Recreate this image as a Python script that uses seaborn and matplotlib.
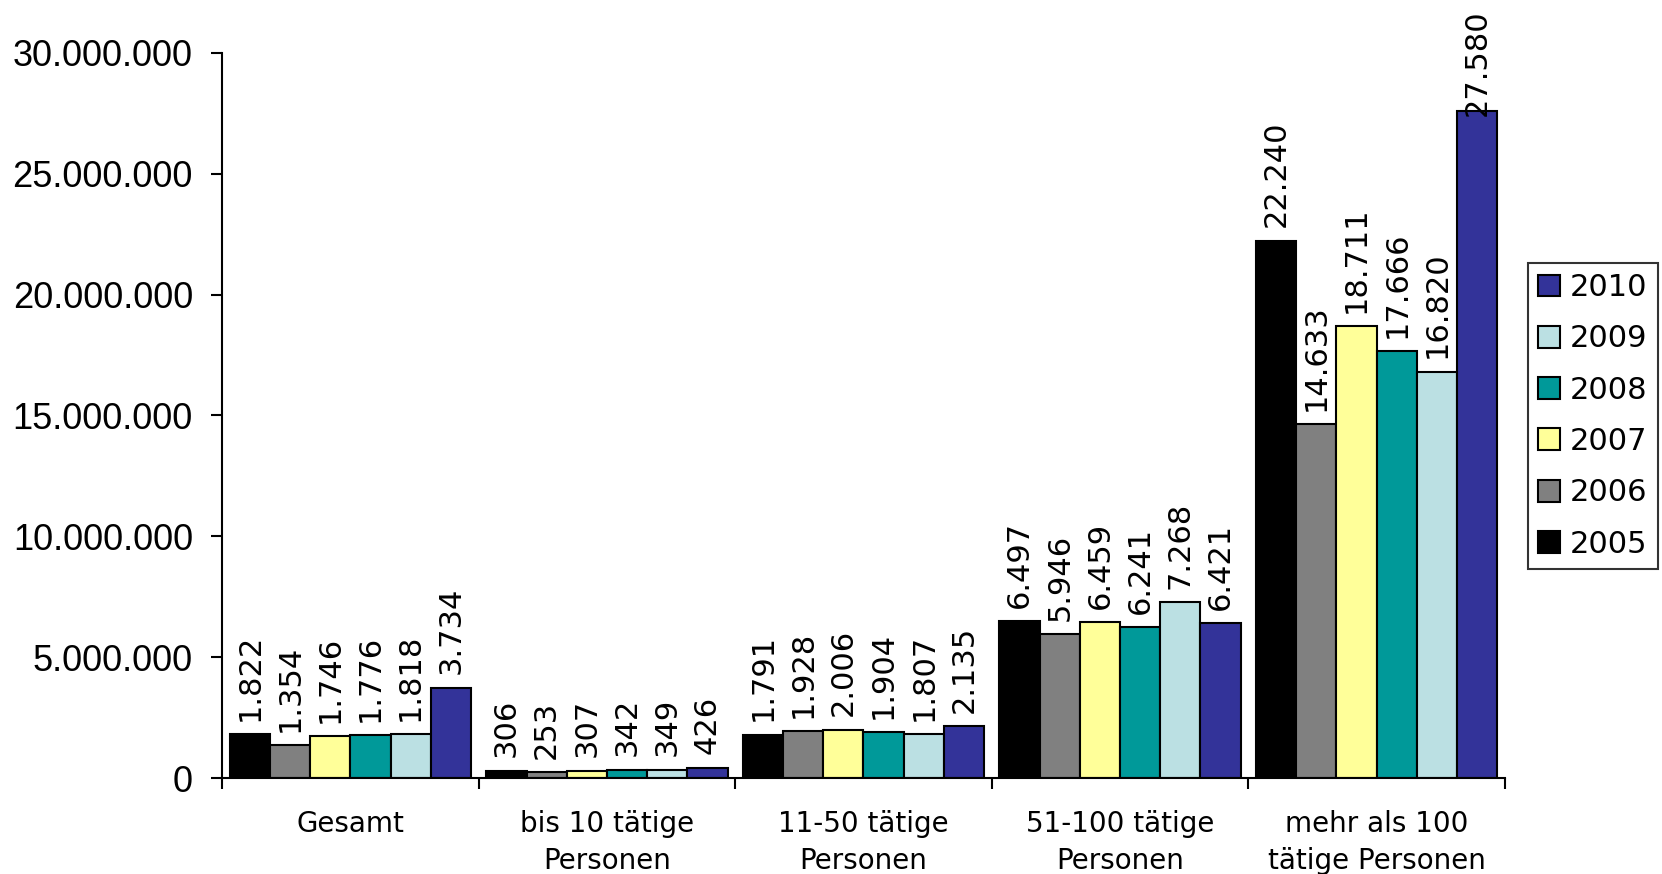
import matplotlib
matplotlib.use("Agg")
import matplotlib.pyplot as plt
import seaborn as sns
import pandas as pd
from matplotlib.ticker import FixedLocator, FuncFormatter

sns.set_theme(style="white")
plt.rcParams['font.family'] = ['DejaVu Sans']
plt.rcParams['text.color'] = 'black'
plt.rcParams['xtick.color'] = 'black'
plt.rcParams['ytick.color'] = 'black'

# Kategorien und Werte (in Tausend)
categories = ["Gesamt", "bis 10 tätige\nPersonen", "11-50 tätige\nPersonen",
              "51-100 tätige\nPersonen", "mehr als 100\ntätige Personen"]
years = ["2005", "2006", "2007", "2008", "2009", "2010"]
v2005 = [1822, 306, 1791, 6497, 22240]
v2006 = [1354, 253, 1928, 5946, 14633]
v2007 = [1746, 307, 2006, 6459, 18711]
v2008 = [1776, 342, 1904, 6241, 17666]
v2009 = [1818, 349, 1807, 7268, 16820]
v2010 = [3734, 426, 2135, 6421, 27580]
yticks = [0, 5000000, 10000000, 15000000, 20000000, 25000000, 30000000]

colors = ["#000000", "#808080", "#FFFF99", "#009999", "#BBE0E3", "#333399"]

values = [v2005, v2006, v2007, v2008, v2009, v2010]
rows = []
for y, vals in zip(years, values):
    for c, v in zip(categories, vals):
        rows.append({"Kategorie": c, "Jahr": y, "Wert": v * 1000})
df = pd.DataFrame(rows)

fig = plt.figure(figsize=(16.62, 8.74), dpi=100)
ax = fig.add_axes([0.1336, 0.1098, 0.9055 - 0.1336, 0.9394 - 0.1098])

sns.barplot(data=df, x="Kategorie", y="Wert", hue="Jahr", order=categories,
            hue_order=years, palette=colors, width=0.94, edgecolor="black",
            linewidth=1.5, saturation=1, ax=ax)

ax.set_ylim(0, 30000000)
ax.set_xlim(-0.5, len(categories) - 0.5)
ax.set_xlabel("")
ax.set_ylabel("")

# Spines
for s in ["top", "right"]:
    ax.spines[s].set_visible(False)
for s in ["left", "bottom"]:
    ax.spines[s].set_linewidth(1.5)
    ax.spines[s].set_color("black")

# Y-Achse
ax.yaxis.set_major_locator(FixedLocator(yticks))
ax.yaxis.set_major_formatter(FuncFormatter(lambda v, p: f"{int(v):,}".replace(",", ".")))
ax.tick_params(axis="y", direction="out", length=8, width=1.5, color="black",
               left=True, pad=13, labelsize=26, labelcolor="black")
for t in ax.get_yticklabels():
    t.set_family("Liberation Sans")

# X-Achse: Striche an Gruppengrenzen, Beschriftung in der Mitte
ax.xaxis.set_major_locator(FixedLocator([i - 0.5 for i in range(len(categories) + 1)]))
ax.set_xticklabels([""] * (len(categories) + 1))
ax.xaxis.set_minor_locator(FixedLocator(range(len(categories))))
ax.set_xticklabels(categories, minor=True)
ax.tick_params(axis="x", which="major", direction="out", length=8, width=1.5,
               color="black", bottom=True)
ax.tick_params(axis="x", which="minor", length=0, pad=23, labelsize=20,
               labelcolor="black")
for t in ax.get_xticklabels(minor=True):
    t.set_linespacing(1.4)

# Wertebeschriftungen
label_cap = 27400000
for cont, vals in zip(ax.containers, values):
    for bar, v in zip(cont, vals):
        x = bar.get_x() + bar.get_width() / 2
        base = min(v * 1000 + 550000, label_cap)
        ax.text(x, base, f"{v:,}".replace(",", "."), rotation=90,
                ha="center", va="bottom", fontsize=22, color="black",
                clip_on=False)

# Legende (umgekehrte Reihenfolge)
handles, labels = ax.get_legend_handles_labels()
leg = fig.legend(handles[::-1], labels[::-1], loc="upper left",
                 bbox_to_anchor=(1528 / 1662, 1 - 263 / 874), frameon=True,
                 fontsize=22, handlelength=0.72, handleheight=0.72,
                 handletextpad=0.33, labelspacing=0.73, borderpad=0.33,
                 borderaxespad=0, fancybox=False)
leg.get_frame().set_edgecolor("black")
leg.get_frame().set_linewidth(1.5)
ax.get_legend().remove()

fig.savefig("out.png", dpi=100)
